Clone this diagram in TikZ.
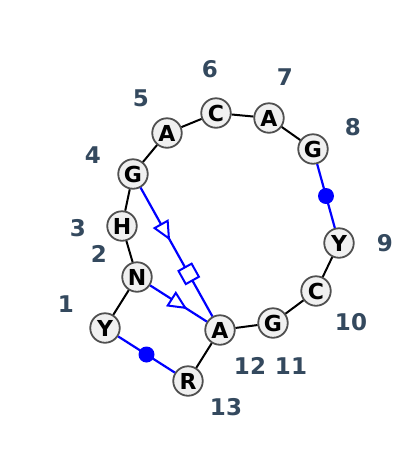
\documentclass[tikz,border=0pt]{standalone}
\usepackage{fontspec}
\setmainfont{DejaVu Sans}
\usepackage{tikz}

\definecolor{numcol}{HTML}{34495E}
\definecolor{basefill}{HTML}{F0F0F0}
\definecolor{baseline}{HTML}{505050}

\tikzset{trimark/.pic={\draw[blue,fill=white,line width=2pt,line join=miter] (8pt,0pt) -- (-8pt,7.5pt) -- (-8pt,-7.5pt) -- cycle;}}

\begin{document}
\begin{tikzpicture}[x=1pt,y=-1pt]
  \useasboundingbox (0,0) rectangle (400,451);
  \tikzstyle{base} = [circle,draw=baseline,fill=basefill,line width=1.8pt,inner sep=0pt,minimum size=29.5pt,font=\fontsize{22}{22}\selectfont\bfseries];
  \tikzstyle{num} = [text=numcol,inner sep=0pt,font=\fontsize{23}{23}\selectfont\bfseries];
  \tikzstyle{backbone} = [line width=2pt,black];
  \tikzstyle{pair} = [line width=2.2pt,blue];
  \tikzstyle{wc} = [circle,fill=blue,inner sep=0pt,minimum size=16pt];
  \tikzstyle{sq} = [rectangle,draw=blue,fill=white,line width=2pt,inner sep=0pt,minimum size=15pt,sloped];
  % bases
  \node[base] (b1) at (105,328) {Y};
  \node[base] (b2) at (137,277) {N};
  \node[base] (b3) at (122,226) {H};
  \node[base] (b4) at (133,174) {G};
  \node[base] (b5) at (167,133) {A};
  \node[base] (b6) at (216,113) {C};
  \node[base] (b7) at (269,118) {A};
  \node[base] (b8) at (313,149) {G};
  \node[base] (b9) at (339,243) {Y};
  \node[base] (b10) at (316,291) {C};
  \node[base] (b11) at (273,323) {G};
  \node[base] (b12) at (220,330) {A};
  \node[base] (b13) at (188,381) {R};
  % backbone
  \draw[backbone] (b1) -- (b2) -- (b3) -- (b4) -- (b5) -- (b6) -- (b7) -- (b8);
  \draw[backbone] (b9) -- (b10) -- (b11) -- (b12) -- (b13);
  % pairs
  \draw[pair] (b8) -- node[wc]{} (b9);
  \draw[pair] (b1) -- node[wc]{} (b13);
  \draw[pair] (b12) -- node[pos=0.33,sq]{} pic[pos=0.66,sloped]{trimark} (b4);
  \draw[pair] (b12) -- pic[pos=0.5,sloped]{trimark} (b2);
  % numbers
  \node[num] (l1) at (66,304) {1};
  \node[num] (l2) at (99,254) {2};
  \node[num] (l3) at (78,228) {3};
  \node[num] (l4) at (93,155) {4};
  \node[num] (l5) at (141,98) {5};
  \node[num] (l6) at (210,69) {6};
  \node[num] (l7) at (285,77) {7};
  \node[num] (l8) at (353,127) {8};
  \node[num] (l9) at (385,243) {9};
  \node[num] (l10) at (351,322) {10};
  \node[num] (l11) at (291,366) {11};
  \node[num] (l12) at (250,366) {12};
  \node[num] (l13) at (226,407) {13};
\end{tikzpicture}
\end{document}
